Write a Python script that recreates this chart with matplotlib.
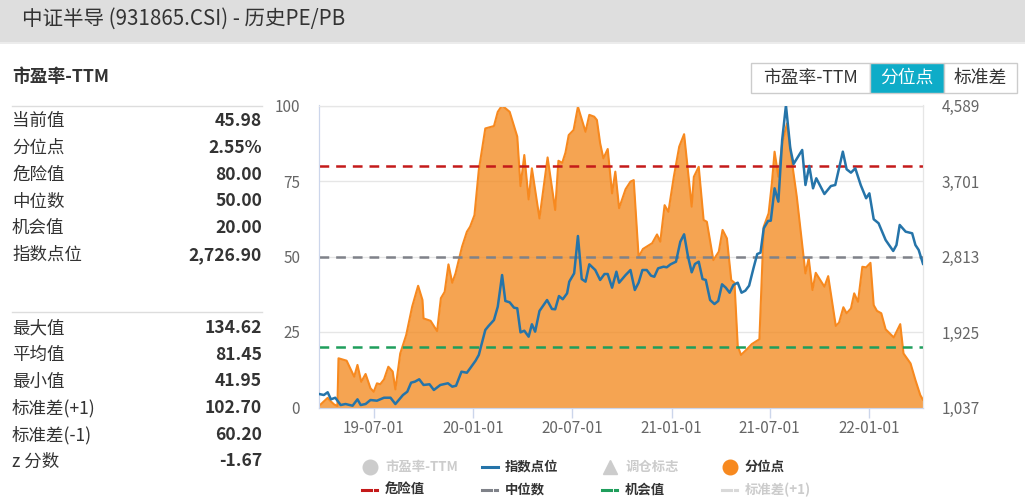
import matplotlib
matplotlib.use("Agg")
import matplotlib.pyplot as plt
import matplotlib.dates as mdates
from matplotlib.patches import Rectangle
from matplotlib.lines import Line2D
from matplotlib.ticker import FuncFormatter, FixedLocator
import pandas as pd

plt.rcParams['font.family'] = ['Noto Sans CJK SC', 'DejaVu Sans']
plt.rcParams['lines.scale_dashes'] = False

# ---------------- data ----------------
title = "中证半导 (931865.CSI) - 历史PE/PB"
section_title = "市盈率-TTM"
stats_top_labels = ["当前值", "分位点", "危险值", "中位数", "机会值", "指数点位"]
stats_top_values = ["45.98", "2.55%", "80.00", "50.00", "20.00", "2,726.90"]
stats_bot_labels = ["最大值", "平均值", "最小值", "标准差(+1)", "标准差(-1)", "z 分数"]
stats_bot_values = ["134.62", "81.45", "41.95", "102.70", "60.20", "-1.67"]
buttons = ["市盈率-TTM", "分位点", "标准差"]

pct_dates = [
    "2019-03-22", "2019-04-07", "2019-04-13", "2019-04-19", "2019-04-25", "2019-04-27",
    "2019-05-12", "2019-05-26", "2019-06-01", "2019-06-08", "2019-06-16", "2019-06-25",
    "2019-07-01", "2019-07-07", "2019-07-13", "2019-07-20", "2019-07-28", "2019-08-05",
    "2019-08-10", "2019-08-19", "2019-08-30", "2019-09-10", "2019-09-21", "2019-09-29",
    "2019-10-01", "2019-10-14", "2019-10-26", "2019-11-02", "2019-11-09", "2019-11-16",
    "2019-11-23", "2019-11-29", "2019-12-11", "2019-12-20", "2019-12-26", "2020-01-03",
    "2020-01-11", "2020-01-23", "2020-02-08", "2020-02-15", "2020-02-23", "2020-03-08",
    "2020-03-22", "2020-03-28", "2020-04-04", "2020-04-12", "2020-04-18", "2020-05-02",
    "2020-05-17", "2020-05-31", "2020-06-06", "2020-06-13", "2020-06-19", "2020-06-25",
    "2020-07-04", "2020-07-12", "2020-07-26", "2020-08-02", "2020-08-11", "2020-08-16",
    "2020-08-22", "2020-08-28", "2020-09-05", "2020-09-13", "2020-09-19", "2020-09-26",
    "2020-10-08", "2020-10-17", "2020-10-23", "2020-11-01", "2020-11-09", "2020-11-26",
    "2020-12-05", "2020-12-11", "2020-12-19", "2020-12-26", "2021-01-05", "2021-01-15",
    "2021-01-24", "2021-02-07", "2021-02-11", "2021-02-20", "2021-03-01", "2021-03-07",
    "2021-03-19", "2021-03-29", "2021-04-05", "2021-04-13", "2021-04-21", "2021-04-27",
    "2021-05-03", "2021-05-09", "2021-05-20", "2021-05-29", "2021-06-12", "2021-06-20",
    "2021-06-29", "2021-07-05", "2021-07-10", "2021-07-17", "2021-07-24", "2021-08-02",
    "2021-08-11", "2021-08-20", "2021-09-05", "2021-09-11", "2021-09-18", "2021-09-24",
    "2021-10-10", "2021-10-17", "2021-10-31", "2021-11-06", "2021-11-14", "2021-11-20",
    "2021-11-28", "2021-12-04", "2021-12-11", "2021-12-19", "2021-12-26", "2022-01-03",
    "2022-01-09", "2022-01-15", "2022-01-23", "2022-01-31", "2022-02-15", "2022-02-27",
    "2022-03-05", "2022-03-18", "2022-03-27", "2022-04-05", "2022-04-10",
]
pct_values = [
    0.5, 3.2, 2.0, 1.0, 0.5, 16.3,
    15.5, 10.2, 14.1, 8.5, 11.1, 6.4,
    5.2, 8.0, 7.7, 9.3, 13.5, 11.9,
    6.0, 17.9, 24.0, 33.4, 40.3, 35.6,
    29.5, 28.7, 25.3, 36.2, 38.3, 47.4,
    41.3, 44.4, 53.2, 58.2, 59.9, 63.7,
    78.6, 92.4, 93.2, 97.9, 100.0, 97.9,
    89.7, 73.3, 83.6, 68.9, 79.2, 62.6,
    82.8, 65.4, 81.7, 81.0, 84.4, 90.2,
    91.9, 99.6, 91.3, 96.9, 96.3, 95.2,
    87.5, 82.5, 85.6, 70.9, 78.1, 66.0,
    72.3, 74.8, 75.3, 49.9, 52.5, 54.4,
    57.3, 54.9, 67.0, 64.8, 76.4, 86.4,
    90.5, 66.5, 76.4, 79.7, 62.1, 61.5,
    48.8, 51.6, 58.8, 56.0, 42.2, 41.3,
    20.4, 17.4, 19.3, 21.0, 22.6, 59.9,
    64.3, 74.2, 84.7, 76.4, 87.5, 94.1,
    81.4, 69.8, 44.4, 49.4, 38.9, 44.6,
    40.0, 43.5, 27.0, 28.1, 33.2, 31.2,
    32.8, 37.8, 35.0, 46.6, 46.4, 47.9,
    33.9, 32.0, 31.2, 25.9, 23.2, 27.6,
    17.9, 14.6, 9.1, 4.1, 2.55,
]

idx_dates = [
    "2019-03-22", "2019-03-31", "2019-04-07", "2019-04-13", "2019-04-21", "2019-05-01",
    "2019-05-10", "2019-05-23", "2019-06-01", "2019-06-07", "2019-06-16", "2019-06-25",
    "2019-07-07", "2019-07-20", "2019-08-01", "2019-08-10", "2019-08-24", "2019-09-01",
    "2019-09-08", "2019-09-15", "2019-09-23", "2019-10-01", "2019-10-12", "2019-10-20",
    "2019-11-01", "2019-11-15", "2019-11-23", "2019-11-30", "2019-12-10", "2019-12-20",
    "2019-12-26", "2020-01-05", "2020-01-11", "2020-01-23", "2020-01-29", "2020-02-08",
    "2020-02-15", "2020-02-23", "2020-02-29", "2020-03-08", "2020-03-16", "2020-03-22",
    "2020-03-28", "2020-04-04", "2020-04-12", "2020-04-18", "2020-04-24", "2020-05-02",
    "2020-05-16", "2020-05-25", "2020-05-31", "2020-06-07", "2020-06-14", "2020-06-22",
    "2020-06-26", "2020-07-05", "2020-07-12", "2020-07-19", "2020-07-26", "2020-08-02",
    "2020-08-13", "2020-08-22", "2020-08-30", "2020-09-05", "2020-09-13", "2020-09-21",
    "2020-09-26", "2020-10-08", "2020-10-17", "2020-10-25", "2020-11-01", "2020-11-08",
    "2020-11-16", "2020-11-24", "2020-11-30", "2020-12-07", "2020-12-17", "2020-12-23",
    "2020-12-30", "2021-01-09", "2021-01-17", "2021-01-24", "2021-01-31", "2021-02-07",
    "2021-02-13", "2021-02-20", "2021-02-27", "2021-03-05", "2021-03-13", "2021-03-21",
    "2021-03-28", "2021-04-04", "2021-04-11", "2021-04-18", "2021-04-25", "2021-05-03",
    "2021-05-10", "2021-05-17", "2021-05-24", "2021-06-01", "2021-06-08", "2021-06-14",
    "2021-06-20", "2021-06-28", "2021-07-03", "2021-07-10", "2021-07-17", "2021-07-24",
    "2021-07-31", "2021-08-08", "2021-08-14", "2021-08-30", "2021-09-05", "2021-09-12",
    "2021-09-19", "2021-09-25", "2021-10-10", "2021-10-22", "2021-10-30", "2021-11-13",
    "2021-11-20", "2021-11-28", "2021-12-06", "2021-12-16", "2021-12-26", "2022-01-01",
    "2022-01-09", "2022-01-18", "2022-01-31", "2022-02-14", "2022-02-20", "2022-02-26",
    "2022-03-09", "2022-03-21", "2022-03-27", "2022-04-02", "2022-04-10",
]
idx_values = [
    1196, 1184, 1216, 1133, 1152, 1066,
    1078, 1058, 1133, 1066, 1078, 1125,
    1117, 1152, 1152, 1078, 1184, 1223,
    1329, 1341, 1369, 1302, 1310, 1243,
    1302, 1322, 1282, 1293, 1458, 1446,
    1498, 1587, 1655, 1949, 1996, 2066,
    2223, 2595, 2290, 2274, 2211, 2204,
    1921, 1940, 1870, 2016, 1929, 2172,
    2301, 2196, 2192, 2348, 2310, 2380,
    2517, 2615, 3054, 2548, 2517, 2721,
    2654, 2537, 2607, 2607, 2446, 2634,
    2505, 2595, 2654, 2419, 2505, 2654,
    2654, 2587, 2575, 2674, 2693, 2686,
    2721, 2752, 2987, 3074, 2819, 2627,
    2725, 2752, 2548, 2537, 2301, 2254,
    2290, 2486, 2446, 2387, 2478, 2505,
    2387, 2411, 2470, 2674, 2842, 2858,
    3145, 3231, 3234, 3615, 3458, 4183,
    4589, 4086, 3901, 4066, 3654, 3878,
    3615, 3733, 3548, 3642, 3654, 4046,
    3839, 3799, 3850, 3654, 3498, 3556,
    3251, 3204, 3007, 2878, 2948, 3184,
    3105, 3086, 2948, 2890, 2727,
]

danger_level = 80
median_level = 50
chance_level = 20
pct_ticks = [0, 25, 50, 75, 100]
idx_ticks = [1037, 1925, 2813, 3701, 4589]
date_ticks = ["2019-07-01", "2020-01-01", "2020-07-01", "2021-01-01", "2021-07-01", "2022-01-01"]
x_start, x_end = "2019-03-22", "2022-04-10"

legend_row1 = [("市盈率-TTM", "circle", "#cccccc", False),
               ("指数点位", "line", "#2574a9", True),
               ("调仓标志", "triangle", "#cccccc", False),
               ("分位点", "circle", "#f7891f", True)]
legend_row2 = [("危险值", "dash", "#c41a1a", True),
               ("中位数", "dash", "#7f8289", True),
               ("机会值", "dash", "#1f9e5c", True),
               ("标准差(+1)", "dash", "#d9d9d9", False)]

# ---------------- figure ----------------
W, H = 1025, 504
fig = plt.figure(figsize=(W / 100, H / 100), dpi=100)
fig.patch.set_facecolor("white")

def fx(px):
    return px / W

def fy(py):
    return 1 - py / H

# header band
fig.patches.append(Rectangle((0, fy(42)), 1, 42 / H, transform=fig.transFigure,
                             facecolor="#dedede", edgecolor="none", zorder=0))
fig.patches.append(Rectangle((0, fy(44)), 1, 2 / H, transform=fig.transFigure,
                             facecolor="#ececec", edgecolor="none", zorder=0))
fig.text(fx(22), fy(19), title, fontsize=14.8, color="#333333", va="center", ha="left")

fig.text(fx(12), fy(77), section_title, fontsize=12.8, fontweight="bold", color="#333333",
         va="center", ha="left")

# left statistic table
def hline(py, x0, x1, color="#dddddd"):
    fig.add_artist(Line2D([fx(x0), fx(x1)], [fy(py), fy(py)], transform=fig.transFigure,
                          color=color, lw=1))

hline(106, 12, 262)
hline(312, 12, 262)
top_rows = [120.5, 148, 175, 201.5, 228, 255]
bot_rows = [328, 355, 381.5, 408, 435, 461.5]
for lab, val, py in zip(stats_top_labels, stats_top_values, top_rows):
    fig.text(fx(12), fy(py), lab, fontsize=12.6, color="#333333", va="center", ha="left")
    fig.text(fx(262), fy(py), val, fontsize=12.6, fontweight="bold", color="#333333",
             va="center", ha="right")
for lab, val, py in zip(stats_bot_labels, stats_bot_values, bot_rows):
    fig.text(fx(12), fy(py), lab, fontsize=12.6, color="#333333", va="center", ha="left")
    fig.text(fx(262), fy(py), val, fontsize=12.6, fontweight="bold", color="#333333",
             va="center", ha="right")

# buttons
btn_edges = [751, 870, 944, 1017]
for i, lab in enumerate(buttons):
    x0, x1 = btn_edges[i], btn_edges[i + 1]
    active = (i == 1)
    fig.patches.append(Rectangle((fx(x0), fy(93)), (x1 - x0) / W, 30 / H,
                                 transform=fig.transFigure,
                                 facecolor="#0eacc8" if active else "white",
                                 edgecolor="#cccccc", lw=1, zorder=1))
    fig.text(fx((x0 + x1) / 2), fy(77.5), lab, fontsize=12.8,
             color="white" if active else "#333333", va="center", ha="center", zorder=2)

# ---------------- chart ----------------
ax = fig.add_axes([fx(319), fy(407.5), (923 - 319) / W, (407.5 - 105.5) / H])
ax2 = ax.twinx()

pdates = pd.to_datetime(pct_dates)
idates = pd.to_datetime(idx_dates)

ax.set_ylim(0, 100)
ax.set_xlim(pd.Timestamp(x_start), pd.Timestamp(x_end))
ax.set_yticks(pct_ticks)
ax.yaxis.grid(True, color="#e6e6e6", lw=1)
ax.set_axisbelow(True)

ax.fill_between(pdates, pct_values, 0, color="#f2891e", alpha=0.77, lw=0, zorder=2)
ax.plot(pdates, pct_values, color="#f7891f", lw=1.5, zorder=3)

dash = (7, 5)
ax.axhline(danger_level, color="#c41a1a", lw=1.8, dashes=dash, zorder=4)
ax.axhline(median_level, color="#7f8289", lw=1.8, dashes=dash, zorder=4)
ax.axhline(chance_level, color="#1f9e5c", lw=1.8, dashes=dash, zorder=4)

ax2.set_ylim(idx_ticks[0], idx_ticks[-1])
ax2.yaxis.set_major_locator(FixedLocator(idx_ticks))
ax2.yaxis.set_major_formatter(FuncFormatter(lambda v, p: f"{v:,.0f}"))
ax2.plot(idates, idx_values, color="#2574a9", lw=1.8, zorder=5)
ax2.set_xlim(pd.Timestamp(x_start), pd.Timestamp(x_end))

ax.set_xticks(pd.to_datetime(date_ticks))
ax.xaxis.set_major_formatter(mdates.DateFormatter("%y-%m-%d"))

for a in (ax, ax2):
    a.spines["top"].set_color("#e6e6e6")
    a.spines["right"].set_color("#e6e6e6")
    a.spines["left"].set_color("#ccd6eb")
    a.spines["bottom"].set_color("#ccd6eb")

ax.tick_params(axis="y", length=0, pad=13.5, labelsize=11, labelcolor="#666666")
ax2.tick_params(axis="y", length=0, pad=13.5, labelsize=11, labelcolor="#666666")
ax.tick_params(axis="x", length=7, width=1, color="#ccd6eb", pad=2, labelsize=11,
               labelcolor="#666666")

# ---------------- legend ----------------
def legend_item(sx, tx, py, label, kind, color, active):
    tcol = "#333333" if active else "#cccccc"
    if kind == "circle":
        fig.add_artist(Line2D([fx(sx)], [fy(py)], transform=fig.transFigure, marker="o",
                              markersize=10.5, color=color, lw=0))
    elif kind == "triangle":
        fig.add_artist(Line2D([fx(sx)], [fy(py)], transform=fig.transFigure, marker="^",
                              markersize=9.5, color=color, lw=0))
    elif kind == "line":
        fig.add_artist(Line2D([fx(sx), fx(sx + 16)], [fy(py), fy(py)],
                              transform=fig.transFigure, color=color, lw=2.2))
    elif kind == "dash":
        fig.add_artist(Line2D([fx(sx), fx(sx + 9)], [fy(py), fy(py)],
                              transform=fig.transFigure, color=color, lw=2.2))
        fig.add_artist(Line2D([fx(sx + 13), fx(sx + 15)], [fy(py), fy(py)],
                              transform=fig.transFigure, color=color, lw=2.2))
    fig.text(fx(tx), fy(py), label, fontsize=9.6, fontweight="bold", color=tcol,
             va="center", ha="left")

row1_pos = [(370, 385), (482, 505), (610, 625), (730, 745)]
row2_pos = [(362, 385), (482, 505), (602, 625), (722, 745)]
for (lab, kind, col, act), (sx, tx) in zip(legend_row1, row1_pos):
    legend_item(sx, tx, 466.5, lab, kind, col, act)
for (lab, kind, col, act), (sx, tx) in zip(legend_row2, row2_pos):
    legend_item(sx, tx, 490, lab, kind, col, act)

fig.savefig("out.png", dpi=100, facecolor="white")
